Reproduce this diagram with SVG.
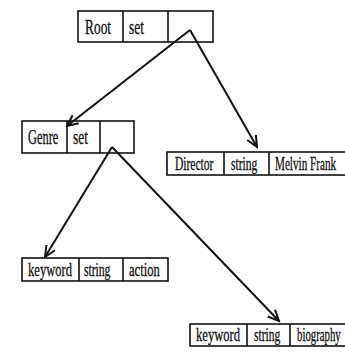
<svg xmlns="http://www.w3.org/2000/svg" width="345" height="353" viewBox="0 0 345 353">
<style>
.box{fill:none;stroke:#111;stroke-width:1.6}
.t{font-family:"Liberation Serif","Times New Roman",serif;fill:#111;stroke:#111;stroke-width:0.3}
.big{font-size:20px}
.sm{font-size:18px}
.conn{stroke:#111;stroke-width:2;fill:none}
</style>
<defs>
<marker id="arr" markerWidth="14" markerHeight="14" refX="12" refY="6" orient="auto" markerUnits="userSpaceOnUse">
<path d="M1,1 L12,6 L1,11" fill="none" stroke="#111" stroke-width="2"/>
</marker>
</defs>
<rect width="345" height="353" fill="#fff"/>
<g id="connectors">
<line class="conn" x1="190" y1="30" x2="67" y2="126" marker-end="url(#arr)"/>
<line class="conn" x1="190" y1="30" x2="257" y2="147" marker-end="url(#arr)"/>
<line class="conn" x1="112" y1="147" x2="45" y2="257" marker-end="url(#arr)"/>
<line class="conn" x1="112" y1="147" x2="279" y2="321" marker-end="url(#arr)"/>
</g>
<g id="root">
<rect class="box" x="78" y="11" width="135" height="31"/>
<line class="box" x1="123" y1="11" x2="123" y2="42"/>
<line class="box" x1="168" y1="11" x2="168" y2="42"/>
<text class="t big" transform="translate(85,34) scale(0.67,1)">Root</text>
<text class="t big" transform="translate(129,34) scale(0.67,1)">set</text>
</g>
<g id="genre">
<rect class="box" x="22" y="121" width="112" height="32"/>
<line class="box" x1="67" y1="121" x2="67" y2="153"/>
<line class="box" x1="100" y1="121" x2="100" y2="153"/>
<text class="t big" transform="translate(28,144) scale(0.62,1)">Genre</text>
<text class="t big" transform="translate(73,144) scale(0.67,1)">set</text>
</g>
<g id="director">
<rect class="box" x="167" y="152" width="180" height="23"/>
<line class="box" x1="224" y1="152" x2="224" y2="175"/>
<line class="box" x1="269" y1="152" x2="269" y2="175"/>
<text class="t sm" transform="translate(175,170) scale(0.64,1)">Director</text>
<text class="t sm" transform="translate(231,170) scale(0.64,1)">string</text>
<text class="t sm" transform="translate(275,170) scale(0.62,1)">Melvin Frank</text>
</g>
<g id="keyword-action">
<rect class="box" x="22" y="258" width="146" height="23"/>
<line class="box" x1="79" y1="258" x2="79" y2="281"/>
<line class="box" x1="123" y1="258" x2="123" y2="281"/>
<text class="t sm" transform="translate(28,276) scale(0.7,1)">keyword</text>
<text class="t sm" transform="translate(84,276) scale(0.64,1)">string</text>
<text class="t sm" transform="translate(129,276) scale(0.7,1)">action</text>
</g>
<g id="keyword-biography">
<rect class="box" x="190" y="324" width="157" height="22"/>
<line class="box" x1="247" y1="324" x2="247" y2="346"/>
<line class="box" x1="290" y1="324" x2="290" y2="346"/>
<text class="t sm" transform="translate(196,341) scale(0.7,1)">keyword</text>
<text class="t sm" transform="translate(254,341) scale(0.64,1)">string</text>
<text class="t sm" transform="translate(297,341) scale(0.6,1)">biography</text>
</g>
</svg>
